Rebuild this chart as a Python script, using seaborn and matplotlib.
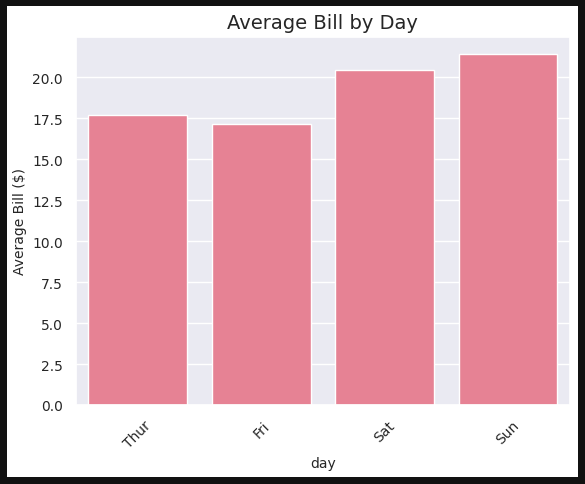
import matplotlib
matplotlib.use("Agg")
import matplotlib.pyplot as plt
import seaborn as sns
import pandas as pd

days = ["Thur", "Fri", "Sat", "Sun"]
avg_bill = [17.68, 17.15, 20.44, 21.41]

sns.set_theme(style="darkgrid", rc={"axes.labelsize": 10, "xtick.labelsize": 10, "ytick.labelsize": 10})
df = pd.DataFrame({"day": days, "total_bill": avg_bill})

fig, ax = plt.subplots(figsize=(5.85, 4.85), dpi=100)
sns.barplot(data=df, x="day", y="total_bill", color="#f77189", ax=ax)
ax.set_title("Average Bill by Day", fontsize=14)
ax.set_ylabel("Average Bill ($)")
ax.set_xlabel("day")
ax.tick_params(axis="x", rotation=45)
fig.patch.set_edgecolor("#111111")
fig.patch.set_linewidth(10)
fig.subplots_adjust(left=0.13, right=0.974, top=0.922, bottom=0.163)
fig.savefig("out.png", dpi=100, edgecolor=fig.get_edgecolor())
